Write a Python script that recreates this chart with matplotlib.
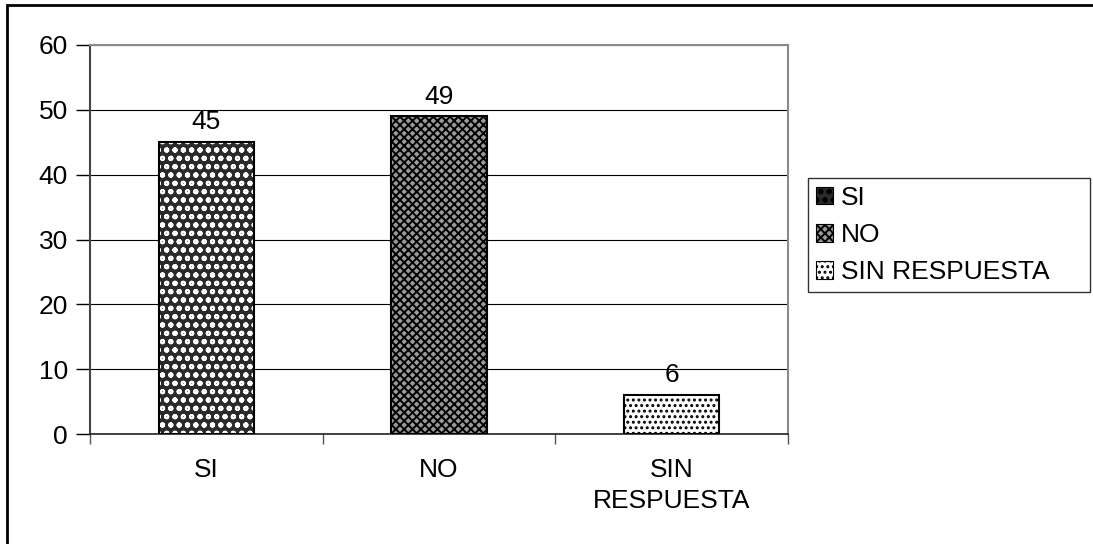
import numpy as np
import matplotlib
matplotlib.use('Agg')
import matplotlib.pyplot as plt
from matplotlib.patches import Rectangle

plt.rcParams['font.family'] = ['Liberation Sans', 'DejaVu Sans']
plt.rcParams['hatch.linewidth'] = 1.4

categories = ['SI', 'NO', 'SIN\nRESPUESTA']
legend_labels = ['SI', 'NO', 'SIN RESPUESTA']
values = [45, 49, 6]

# fill, hatch colour, hatch pattern for each bar
faces = ['#2a2a2a', '#9a9a9a', 'white']
hatch_colors = ['white', 'black', 'black']
hatches = ['oo', 'xxxx', '...']

W, H = 1093, 544
fig = plt.figure(figsize=(W / 100, H / 100), dpi=100)
ax = fig.add_axes([90 / W, 110 / H, 698 / W, 389 / H])

x = np.arange(len(values))
for i in range(len(values)):
    ax.bar(x[i], values[i], width=0.41, color=faces[i], edgecolor=hatch_colors[i],
           hatch=hatches[i], linewidth=0, zorder=3)
    ax.bar(x[i], values[i], width=0.41, fill=False, edgecolor='black',
           linewidth=1.5, zorder=4)
    ax.text(x[i], values[i] + 1.2, str(values[i]), ha='center', va='bottom',
            fontsize=19)

ax.set_xlim(-0.5, 2.5)
ax.set_ylim(0, 60)
ax.set_yticks(range(0, 61, 10))
ax.yaxis.grid(True, color='black', linewidth=0.8, zorder=0)
ax.tick_params(axis='y', direction='out', length=10, width=1, labelsize=19, pad=6)

ax.set_xticks(x)
ax.set_xticklabels(categories, fontsize=19, linespacing=1.4)
ax.set_xticks([-0.5, 0.5, 1.5, 2.5], minor=True)
ax.tick_params(axis='x', which='major', length=0, pad=17)
ax.tick_params(axis='x', which='minor', direction='out', length=7, width=1, color='#555555')

for s in ['top', 'right']:
    ax.spines[s].set_color('#8a8a8a')
    ax.spines[s].set_linewidth(1.5)
ax.spines['left'].set_color('#444444')
ax.spines['left'].set_linewidth(1.5)
ax.spines['bottom'].set_color('#222222')
ax.spines['bottom'].set_linewidth(1.2)

# legend
handles = []
for i in range(len(values)):
    handles.append(Rectangle((0, 0), 1, 1, facecolor=faces[i], edgecolor='black',
                             hatch=hatches[i], linewidth=0.8))
leg = fig.legend(handles, legend_labels, loc='upper left',
                 bbox_to_anchor=(808 / W, 1 - 297 / H, 282 / W, 119 / H),
                 mode='expand', fontsize=19, frameon=True, fancybox=False,
                 handlelength=0.65, handleheight=0.65, handletextpad=0.3,
                 labelspacing=0.5, borderpad=0.3, borderaxespad=0)
leg.get_frame().set_edgecolor('black')
leg.get_frame().set_linewidth(1)

# outer chart border
fig.add_artist(Rectangle((7 / W, -0.1), 1.2, 1.1 - 5 / H, transform=fig.transFigure,
                         fill=False, edgecolor='black', linewidth=2))

fig.savefig('out.png', dpi=100)
